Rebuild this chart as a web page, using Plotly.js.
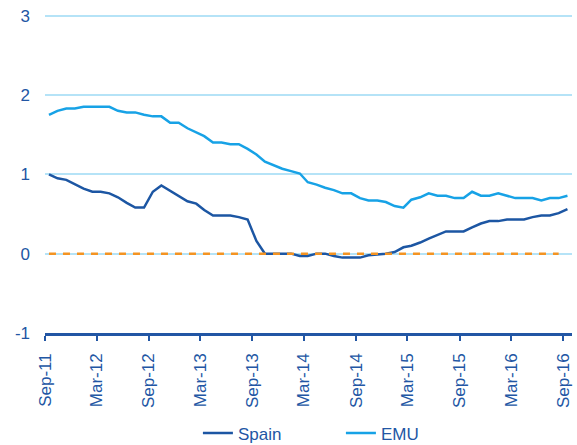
<!DOCTYPE html>
<html>
<head>
<meta charset="utf-8">
<script src="https://cdn.plot.ly/plotly-3.0.1.min.js"></script>
<style>html,body{margin:0;padding:0;background:#fff;}#chart{width:577px;height:445px;}</style>
</head>
<body>
<div id="chart"></div>
<script>
// Monthly observations, Sep-2011 .. Sep-2016 (plotted mid-month)
const months = [
 "2011-09","2011-10","2011-11","2011-12","2012-01","2012-02","2012-03","2012-04","2012-05","2012-06","2012-07","2012-08",
 "2012-09","2012-10","2012-11","2012-12","2013-01","2013-02","2013-03","2013-04","2013-05","2013-06","2013-07","2013-08",
 "2013-09","2013-10","2013-11","2013-12","2014-01","2014-02","2014-03","2014-04","2014-05","2014-06","2014-07","2014-08",
 "2014-09","2014-10","2014-11","2014-12","2015-01","2015-02","2015-03","2015-04","2015-05","2015-06","2015-07","2015-08",
 "2015-09","2015-10","2015-11","2015-12","2016-01","2016-02","2016-03","2016-04","2016-05","2016-06","2016-07","2016-08",
 "2016-09"
];
const spain = [
 1.00,0.95,0.93,0.88,0.82,0.78,0.78,0.76,0.71,0.64,0.58,0.58,
 0.78,0.86,0.79,0.73,0.66,0.63,0.55,0.48,0.48,0.48,0.46,0.43,
 0.16,0.00,0.00,0.00,0.00,-0.03,-0.03,0.00,0.00,-0.03,-0.05,-0.05,
 -0.05,-0.02,-0.01,0.00,0.02,0.08,0.10,0.14,0.19,0.24,0.28,0.28,
 0.28,0.33,0.38,0.41,0.41,0.43,0.43,0.43,0.46,0.48,0.48,0.51,
 0.56
];
const emu = [
 1.75,1.80,1.83,1.83,1.85,1.85,1.85,1.85,1.80,1.78,1.78,1.75,
 1.73,1.73,1.65,1.65,1.58,1.53,1.48,1.40,1.40,1.38,1.38,1.32,
 1.25,1.16,1.11,1.07,1.04,1.01,0.90,0.87,0.83,0.80,0.76,0.76,
 0.70,0.67,0.67,0.65,0.60,0.58,0.68,0.71,0.76,0.73,0.73,0.70,
 0.70,0.78,0.73,0.73,0.76,0.73,0.70,0.70,0.70,0.67,0.70,0.70,
 0.73
];
const zeroMonths = ["2011-09","2016-08"];
const zeroValues = [0, 0];
const tickMonths = ["2011-09","2012-03","2012-09","2013-03","2013-09","2014-03","2014-09","2015-03","2015-09","2016-03","2016-09"];
const tickLabels = ["Sep-11","Mar-12","Sep-12","Mar-13","Sep-13","Mar-14","Sep-14","Mar-15","Sep-15","Mar-16","Sep-16"];
const yTicks = [-1,0,1,2,3];
const seriesNames = ["Spain","EMU"];

const mid = m => m + "-15";
const first = m => m + "-01";

const FONT = "Liberation Sans, Arial, sans-serif";
const TXT = "#2256a4";

const traces = [
  {x: months.map(mid), y: spain, name: seriesNames[0], type: "scatter", mode: "lines",
   line: {color: "#1c56a3", width: 2.5}},
  {x: months.map(mid), y: emu, name: seriesNames[1], type: "scatter", mode: "lines",
   line: {color: "#17a2e6", width: 2.5}},
  {x: zeroMonths.map(mid), y: zeroValues, type: "scatter", mode: "lines", showlegend: false,
   line: {color: "#f39322", width: 2.5, dash: "7px,7px"}}
];

const layout = {
  width: 577, height: 445,
  margin: {l: 45, r: 5, t: 14, b: 112},
  paper_bgcolor: "#ffffff", plot_bgcolor: "#ffffff",
  font: {family: FONT, size: 17, color: TXT},
  showlegend: true,
  hovermode: false,
  legend: {orientation: "h", xref: "container", yref: "container",
           x: 0.343, xanchor: "left", y: 0.026, yanchor: "middle",
           entrywidth: 98, entrywidthmode: "pixels",
           font: {family: FONT, size: 17, color: TXT}, traceorder: "normal"},
  xaxis: {
    type: "date", automargin: false,
    range: [first("2011-09"), first("2016-10")],
    tickmode: "array", tickvals: tickMonths.map(first), ticktext: tickLabels,
    tickangle: -90, ticks: "outside", ticklen: 5, tickwidth: 2, tickcolor: "#2256a4",
    showline: true, linecolor: "#2256a4", linewidth: 2.5,
    showgrid: false, zeroline: false,
    tickfont: {family: FONT, size: 17, color: TXT},
    ticklabelstandoff: 6
  },
  yaxis: {
    range: [-1, 3.02], automargin: false, tickmode: "array", tickvals: yTicks, ticktext: yTicks.map(String),
    showgrid: true, gridcolor: "#b5e3f7", gridwidth: 2,
    zeroline: false, showline: false, ticks: "",
    tickfont: {family: FONT, size: 17, color: TXT},
    ticklabelstandoff: 14
  }
};

Plotly.newPlot("chart", traces, layout, {staticPlot: true, displayModeBar: false});
</script>
</body>
</html>
